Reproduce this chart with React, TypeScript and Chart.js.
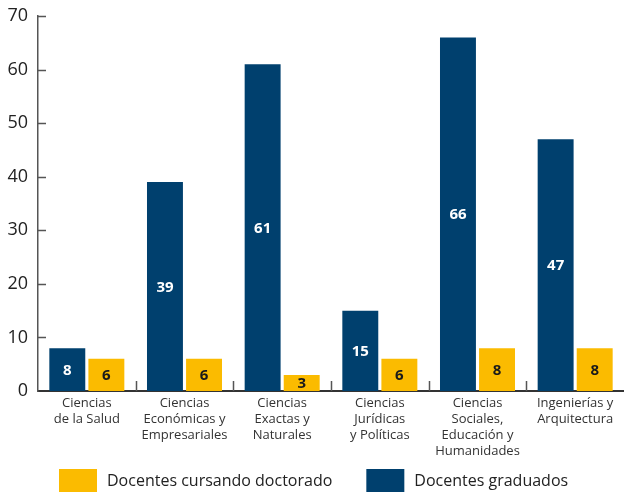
import React, { useEffect, useRef } from "react";
import { Chart, registerables } from "chart.js";

Chart.register(...registerables);

const categories: string[][] = [
  ["Ciencias", "de la Salud"],
  ["Ciencias", "Económicas y", "Empresariales"],
  ["Ciencias", "Exactas y", "Naturales"],
  ["Ciencias", "Jurídicas", "y Políticas"],
  ["Ciencias", "Sociales,", "Educación y", "Humanidades"],
  ["Ingenierías y", "Arquitectura"],
];
const graduados = [8, 39, 61, 15, 66, 47];
const cursando = [6, 6, 3, 6, 8, 8];
const yTicks = [0, 10, 20, 30, 40, 50, 60, 70];

const BLUE = "#00406e";
const YELLOW = "#fbbb00";
const FONT = "'Open Sans', 'Noto Sans', sans-serif";

const valueLabels = {
  id: "valueLabels",
  afterDatasetsDraw(chart: any) {
    const ctx = chart.ctx;
    ctx.save();
    ctx.font = `bold 15px ${FONT}`;
    ctx.textAlign = "center";
    ctx.textBaseline = "middle";
    chart.data.datasets.forEach((ds: any, di: number) => {
      const meta = chart.getDatasetMeta(di);
      meta.data.forEach((el: any, i: number) => {
        ctx.fillStyle = di === 0 ? "#ffffff" : "#1a1a1a";
        ctx.fillText(String(ds.data[i]), el.x, (el.y + el.base) / 2 + 1);
      });
    });
    ctx.restore();
  },
};

const axisTicks = {
  id: "axisTicks",
  afterDraw(chart: any) {
    const ctx = chart.ctx;
    const x = chart.scales.x;
    const y = chart.scales.y;
    const area = chart.chartArea;
    ctx.save();
    ctx.strokeStyle = "#555555";
    ctx.lineWidth = 1.5;
    ctx.beginPath();
    yTicks.forEach((v) => {
      if (v === 0) return;
      const py = Math.round(y.getPixelForValue(v)) + 0.5;
      ctx.moveTo(area.left, py);
      ctx.lineTo(area.left + 8, py);
    });
    for (let i = 1; i < categories.length; i++) {
      const px = Math.round((x.getPixelForValue(i - 1) + x.getPixelForValue(i)) / 2) + 0.5;
      ctx.moveTo(px, area.bottom);
      ctx.lineTo(px, area.bottom - 10);
    }
    ctx.stroke();

    // legend
    const items = [
      { label: "Docentes cursando doctorado", color: YELLOW },
      { label: "Docentes graduados", color: BLUE },
    ];
    ctx.font = `16px ${FONT}`;
    ctx.textBaseline = "middle";
    ctx.textAlign = "left";
    let lx = 59;
    const ly = 469;
    items.forEach((it) => {
      ctx.fillStyle = it.color;
      ctx.fillRect(lx, ly, 38, 23);
      ctx.fillStyle = "#222222";
      ctx.fillText(it.label, lx + 48, ly + 12);
      lx += 48 + ctx.measureText(it.label).width + 34;
    });
    ctx.restore();
  },
};

export default function App() {
  const ref = useRef<HTMLCanvasElement>(null);
  useEffect(() => {
    if (!ref.current) return;
    const chart = new Chart(ref.current, {
      type: "bar",
      data: {
        labels: categories,
        datasets: [
          { label: "Docentes graduados", data: graduados, backgroundColor: BLUE },
          { label: "Docentes cursando doctorado", data: cursando, backgroundColor: YELLOW },
        ],
      },
      options: {
        animation: false,
        responsive: true,
        maintainAspectRatio: false,
        datasets: { bar: { categoryPercentage: 0.8, barPercentage: 0.92 } },
        layout: { padding: { top: 16, left: 0, right: 0, bottom: 0 } },
        plugins: { legend: { display: false }, tooltip: { enabled: false } },
        scales: {
          x: {
            grid: { display: false, drawTicks: false },
            border: { display: true, color: "#333333", width: 2 },
            ticks: {
              color: "#333333",
              font: { family: FONT, size: 13, lineHeight: 1.23 },
              padding: 4,
              maxRotation: 0,
              autoSkip: false,
            },
            afterFit: (s: any) => {
              s.height = 104;
              s.paddingLeft = 0;
              s.paddingRight = 0;
            },
          },
          y: {
            min: 0,
            max: 70,
            grid: { display: false, drawTicks: false },
            border: { display: true, color: "#555555", width: 1.5 },
            ticks: {
              stepSize: 10,
              color: "#222222",
              font: { family: FONT, size: 18 },
              padding: 10,
            },
            afterFit: (s: any) => {
              s.width = 38;
              s.paddingTop = 0;
              s.paddingBottom = 0;
            },
          },
        },
      },
      plugins: [valueLabels, axisTicks],
    });
    return () => chart.destroy();
  }, []);
  return (
    <div style={{ position: "fixed", left: 0, top: 0, width: 624, height: 495 }}>
      <canvas ref={ref} />
    </div>
  );
}
